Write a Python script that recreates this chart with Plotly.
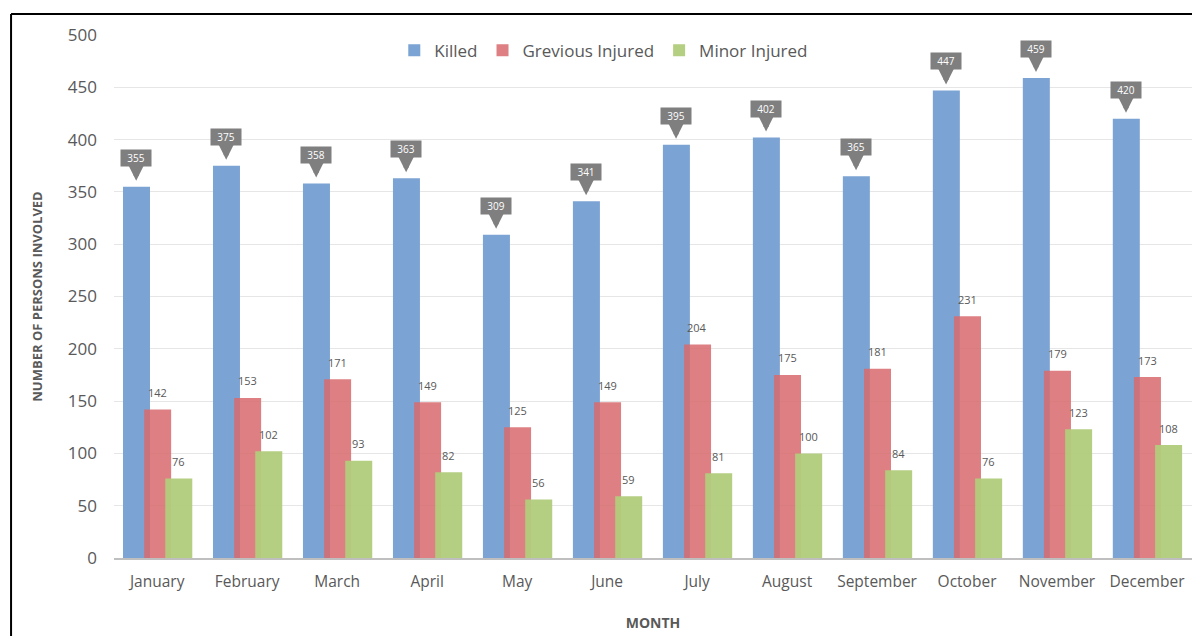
import plotly.graph_objects as go

months = ["January", "February", "March", "April", "May", "June", "July",
          "August", "September", "October", "November", "December"]
killed = [355, 375, 358, 363, 309, 341, 395, 402, 365, 447, 459, 420]
grevious = [142, 153, 171, 149, 125, 149, 204, 175, 181, 231, 179, 173]
minor = [76, 102, 93, 82, 56, 59, 81, 100, 84, 76, 123, 108]

FONT = "Open Sans"
GREY_TXT = "#595959"
CALLOUT = "#7f7f7f"

fig = go.Figure()

fig.add_trace(go.Bar(x=months, y=killed, name="Killed", marker_color="#7BA3D3",
                     width=0.3, offset=-0.38, marker_line_width=0))
fig.add_trace(go.Bar(x=months, y=grevious, name="Grevious Injured", marker_color="#D96B6E",
                     opacity=0.85, width=0.3, offset=-0.145, marker_line_width=0))
fig.add_trace(go.Bar(x=months, y=minor, name="Minor Injured", marker_color="#B2CD7C",
                     opacity=0.95, width=0.3, offset=0.09, marker_line_width=0))

# plain value labels above the injured bars
for vals, shift in ((grevious, 0), (minor, 21)):
    for m, v in zip(months, vals):
        fig.add_annotation(x=m, y=v, xshift=shift, yshift=17, text=str(v), showarrow=False,
                           font=dict(size=11, color=GREY_TXT, family=FONT))

# callout labels for the killed series: a grey box and a down arrow
for m, v in zip(months, killed):
    fig.add_annotation(x=m, y=v, xshift=-21, yshift=29, text=str(v), showarrow=False,
                       bgcolor=CALLOUT, width=30, height=16, borderpad=0,
                       font=dict(size=10, color="white", family=FONT))
    fig.add_annotation(x=m, y=v, xshift=-21, text="", showarrow=True,
                       ax=0, ay=-21, standoff=6, arrowhead=2, arrowsize=0.7,
                       arrowwidth=5, arrowcolor=CALLOUT)

# frame of the original picture
fig.add_shape(type="line", xref="paper", yref="paper", x0=-0.0955, x1=1.03,
              y0=1.04, y1=1.04, line=dict(color="black", width=2))
fig.add_shape(type="line", xref="paper", yref="paper", x0=-0.0955, x1=-0.0955,
              y0=1.04, y1=-0.2, line=dict(color="black", width=2))

fig.update_layout(
    barmode="overlay",
    width=1200, height=636,
    margin=dict(l=106, r=16, t=27, b=86),
    plot_bgcolor="white", paper_bgcolor="white",
    font=dict(family=FONT, color=GREY_TXT),
    legend=dict(orientation="h", x=0.26, xanchor="left", y=0.97, yanchor="middle",
                font=dict(size=17, color=GREY_TXT), bgcolor="rgba(0,0,0,0)",
                itemwidth=30, traceorder="normal"),
)
fig.update_xaxes(range=[-0.48, 11.5], showgrid=False, showline=True, linecolor="#bfbfbf",
                 linewidth=2, ticks="", tickfont=dict(size=15.5, color=GREY_TXT),
                 ticklabelstandoff=8,
                 title=dict(text="<b>MONTH</b>", font=dict(size=14, color=GREY_TXT), standoff=28))
fig.update_yaxes(range=[0, 500], dtick=50, showgrid=True, gridcolor="#e6e6e6", zeroline=False,
                 ticks="", tickfont=dict(size=17, color=GREY_TXT), ticklabelstandoff=16,
                 title=dict(text="<b>NUMBER OF PERSONS INVOLVED</b>",
                            font=dict(size=13, color=GREY_TXT), standoff=22))

fig.write_html("out.html")
